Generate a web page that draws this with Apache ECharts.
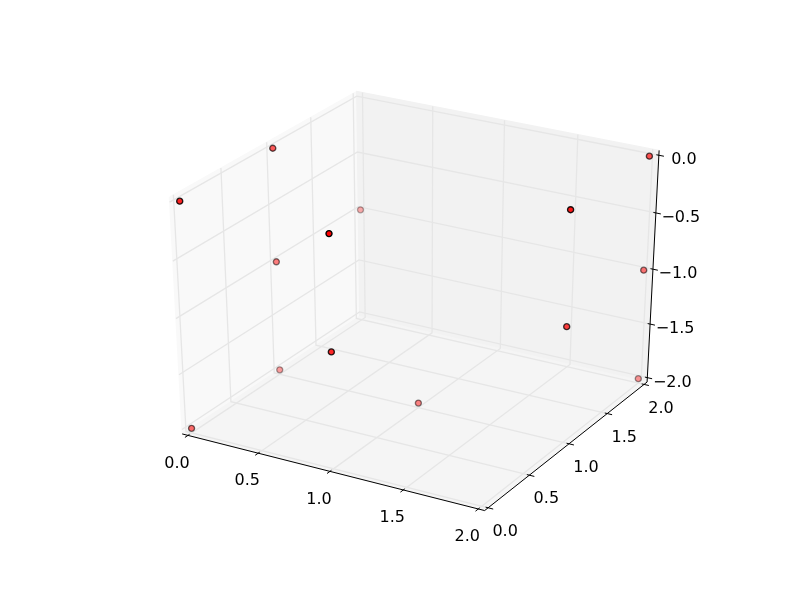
<!DOCTYPE html>
<html lang="en">
<head>
    <meta charset="UTF-8">
    <title>3D scatter</title>
    <script src="https://cdn.jsdelivr.net/npm/echarts@6/dist/echarts.min.js"></script>
    <style>html, body { margin: 0; background: #fff; }</style>
</head>
<body>
<div id="pic1" style="width: 800px;height:600px"></div>
<script>
    //data
    var xs = [0, 0, 0, 0, 0, 0, 1, 1, 1, 2, 2, 2, 2, 2];
    var ys = [0, 0, 1, 1, 1, 2, 0, 0, 1, 1, 1, 2, 2, 2];
    var zs = [0, -2, 0, -1, -2, -1, 0, -1, -2, 0, -1, 0, -1, -2];
    var xTicks = [0, 0.5, 1, 1.5, 2];
    var yTicks = [0, 0.5, 1, 1.5, 2];
    var zTicks = [-2, -1.5, -1, -0.5, 0];
    var xLabels = ['0.0', '0.5', '1.0', '1.5', '2.0'];
    var yLabels = ['0.0', '0.5', '1.0', '1.5', '2.0'];
    var zLabels = ['\u22122.0', '\u22121.5', '\u22121.0', '\u22120.5', '0.0'];

    //view of the 3d box
    var xLim = [0, 2], yLim = [0, 2], zLim = [-2, 0];
    var elev = 30 * Math.PI / 180, azim = -60 * Math.PI / 180, dist = 10;

    function dot(a, b) { return a[0] * b[0] + a[1] * b[1] + a[2] * b[2]; }
    function cross(a, b) {
        return [a[1] * b[2] - a[2] * b[1], a[2] * b[0] - a[0] * b[2], a[0] * b[1] - a[1] * b[0]];
    }
    function unit(a) {
        var l = Math.sqrt(dot(a, a));
        return [a[0] / l, a[1] / l, a[2] / l];
    }
    var eyeDir = [Math.cos(elev) * Math.cos(azim), Math.cos(elev) * Math.sin(azim), Math.sin(elev)];
    var eye = [0.5 + dist * eyeDir[0], 0.5 + dist * eyeDir[1], 0.5 + dist * eyeDir[2]];
    var n = unit(eyeDir);
    var u = unit(cross([0, 0, 1], n));
    var v = cross(n, u);

    //data coordinates -> [x2d, y2d, depth]
    function project(x, y, z) {
        var p = [
            (x - xLim[0]) / (xLim[1] - xLim[0]) - eye[0],
            (y - yLim[0]) / (yLim[1] - yLim[0]) - eye[1],
            (z - zLim[0]) / (zLim[1] - zLim[0]) - eye[2]
        ];
        var zv = dot(n, p);
        return [dot(u, p) / -zv, dot(v, p) / -zv, dist / zv];
    }

    //depth shading: near points solid, far points faded
    var projected = xs.map(function (x, i) { return project(x, ys[i], zs[i]); });
    var depths = projected.map(function (p) { return p[2]; });
    var dMin = Math.min.apply(null, depths), dMax = Math.max.apply(null, depths);
    var pointData = projected.map(function (p) {
        return {
            value: [p[0], p[1]],
            itemStyle: { opacity: 1 - 0.7 * (p[2] - dMin) / (dMax - dMin) }
        };
    });

    //pane limits
    var pad = (xLim[1] - xLim[0]) / 48;
    var x0 = xLim[0] - pad, x1 = xLim[1] + pad;
    var y0 = yLim[0] - pad, y1 = yLim[1] + pad;
    var z0 = zLim[0] - pad, z1 = zLim[1] + pad;
    var delta = 2 / 12;
    var tickIn = 0.1 * delta, tickOut = 0.2 * delta;

    function renderBox(params, api) {
        function pt(x, y, z) {
            var p = project(x, y, z);
            return api.coord([p[0], p[1]]);
        }
        function pane(points, color) {
            return {
                type: 'polygon',
                shape: { points: points },
                style: { fill: color, stroke: color, lineWidth: 1 }
            };
        }
        function line(points, color, width) {
            return {
                type: 'polyline',
                shape: { points: points },
                style: { fill: null, stroke: color, lineWidth: width }
            };
        }
        function label(text, p, dx, dy) {
            return {
                type: 'text',
                style: {
                    x: p[0] + dx, y: p[1] + dy, text: text, fill: '#000',
                    font: '16px "DejaVu Sans"', textAlign: 'center', textVerticalAlign: 'middle'
                }
            };
        }
        var out = [];
        //panes
        out.push(pane([pt(x0, y0, z0), pt(x0, y1, z0), pt(x0, y1, z1), pt(x0, y0, z1)], '#f9f9f9'));
        out.push(pane([pt(x0, y1, z0), pt(x1, y1, z0), pt(x1, y1, z1), pt(x0, y1, z1)], '#f2f2f2'));
        out.push(pane([pt(x0, y0, z0), pt(x1, y0, z0), pt(x1, y1, z0), pt(x0, y1, z0)], '#f5f5f5'));
        //grid
        xTicks.forEach(function (t) {
            out.push(line([pt(t, y0, z0), pt(t, y1, z0), pt(t, y1, z1)], '#e6e6e6', 1.3));
        });
        yTicks.forEach(function (t) {
            out.push(line([pt(x0, t, z1), pt(x0, t, z0), pt(x1, t, z0)], '#e6e6e6', 1.3));
        });
        zTicks.forEach(function (t) {
            out.push(line([pt(x0, y0, t), pt(x0, y1, t), pt(x1, y1, t)], '#e6e6e6', 1.3));
        });
        //axis lines
        out.push(line([pt(x0, y0, z0), pt(x1, y0, z0)], '#000', 1));
        out.push(line([pt(x1, y0, z0), pt(x1, y1, z0)], '#000', 1));
        out.push(line([pt(x1, y1, z0), pt(x1, y1, z1)], '#000', 1));
        //ticks and their labels
        xTicks.forEach(function (t, i) {
            out.push(line([pt(t, y0 + tickIn, z0), pt(t, y0 - tickOut, z0)], '#000', 1));
            out.push(label(xLabels[i], pt(t, y0, z0), -11, 28));
        });
        yTicks.forEach(function (t, i) {
            out.push(line([pt(x1 - tickIn, t, z0), pt(x1 + tickOut, t, z0)], '#000', 1));
            out.push(label(yLabels[i], pt(x1, t, z0), 17, 24));
        });
        zTicks.forEach(function (t, i) {
            out.push(line([pt(x1 - tickIn, y1, t), pt(x1 + tickOut, y1, t)], '#000', 1));
            out.push(label(zLabels[i], pt(x1, y1, t), 25, 5));
        });
        return { type: 'group', children: out };
    }

    var myCharts1 = echarts.init(document.getElementById('pic1'));
    var option1 = {
        backgroundColor: 'white',
        animation: false,
        grid: { left: 100, top: 60, width: 620, height: 480 },
        xAxis: { type: 'value', show: false, min: -0.095, max: 0.09 },
        yAxis: { type: 'value', show: false, min: -0.095, max: 0.09 },
        series: [
            {
                type: 'custom',
                coordinateSystem: 'cartesian2d',
                clip: false,
                silent: true,
                z: 1,
                data: [[0, 0]],
                renderItem: renderBox
            },
            {
                type: 'scatter',
                clip: false,
                silent: true,
                z: 2,
                symbol: 'circle',
                symbolSize: 6,
                itemStyle: { color: '#ff0000', borderColor: '#000', borderWidth: 1.4 },
                data: pointData
            }
        ]
    };
    myCharts1.setOption(option1, true);
</script>
</body>
</html>
